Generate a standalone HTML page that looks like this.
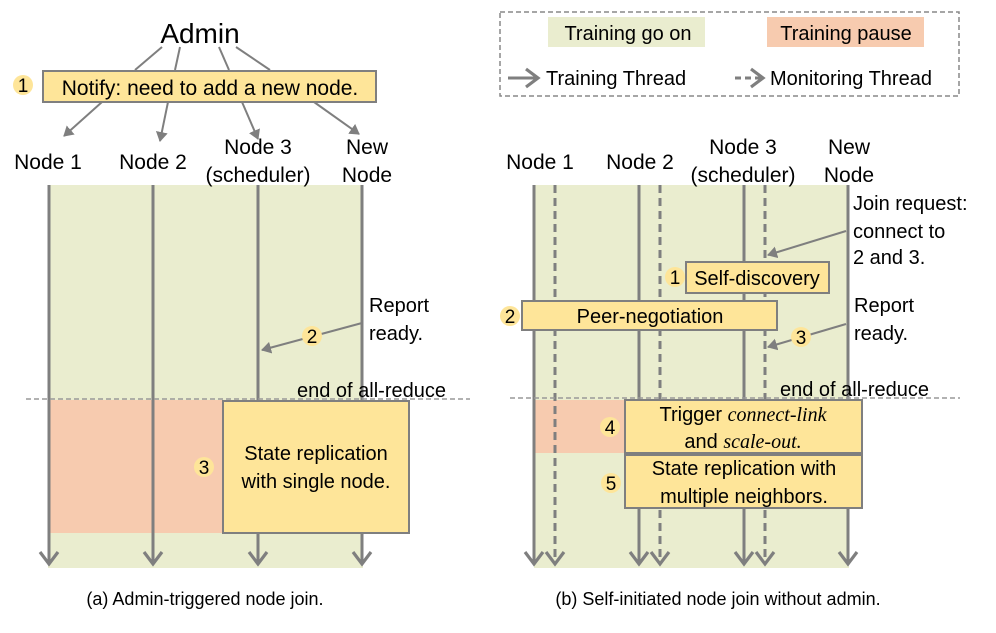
<!DOCTYPE html>
<html><head><meta charset="utf-8"><style>
html,body{margin:0;padding:0;background:#fff;}
svg text{font-family:"Liberation Sans",sans-serif;fill:#000;}
</style></head><body>
<svg width="996" height="628" viewBox="0 0 996 628" xmlns="http://www.w3.org/2000/svg">
<defs>
<marker id="ah" markerWidth="12" markerHeight="12" refX="9" refY="6" orient="auto" markerUnits="userSpaceOnUse">
<path d="M0,0 L10,6 L0,12 Z" fill="#7f7f7f"/></marker>
<marker id="ov" markerWidth="24" markerHeight="24" refX="13" refY="12" orient="auto" markerUnits="userSpaceOnUse">
<path d="M1,3 L13,12 L1,21" fill="none" stroke="#7f7f7f" stroke-width="3.2"/></marker>
</defs>
<!-- legend -->
<rect x="500" y="12" width="459" height="84" fill="none" stroke="#888" stroke-width="1.5" stroke-dasharray="5,3"/>
<rect x="548" y="17" width="157" height="30" fill="#eaedcf"/>
<rect x="767" y="17" width="157" height="30" fill="#f7cbaf"/>
<text x="628" y="40" font-size="20" text-anchor="middle">Training go on</text>
<text x="846" y="40" font-size="20" text-anchor="middle">Training pause</text>
<line x1="508" y1="78" x2="538" y2="78" stroke="#7f7f7f" stroke-width="3" marker-end="url(#ov)"/>
<text x="546" y="85" font-size="20">Training Thread</text>
<line x1="735" y1="78" x2="763" y2="78" stroke="#7f7f7f" stroke-width="3" stroke-dasharray="6,4" marker-end="url(#ov)"/>
<text x="770" y="85" font-size="20">Monitoring Thread</text>

<!-- LEFT PANEL -->
<rect x="48" y="185" width="315" height="383" fill="#eaedcf"/>
<rect x="48" y="400" width="175" height="133" fill="#f7cbaf"/>
<text x="200" y="43" font-size="28" text-anchor="middle">Admin</text>
<g stroke="#7f7f7f" stroke-width="2">
<line x1="162" y1="47" x2="135" y2="70"/><line x1="180" y1="47" x2="175" y2="70"/>
<line x1="219" y1="47" x2="229" y2="70"/><line x1="236" y1="47" x2="270" y2="70"/>
<line x1="102" y1="102" x2="64" y2="136" marker-end="url(#ah)"/>
<line x1="168" y1="102" x2="160" y2="141" marker-end="url(#ah)"/>
<line x1="242" y1="102" x2="258" y2="139" marker-end="url(#ah)"/>
<line x1="314" y1="102" x2="359" y2="134" marker-end="url(#ah)"/>
</g>
<rect x="43" y="71" width="333" height="31" fill="#fee599" stroke="#7f7f7f" stroke-width="2"/>
<text x="210" y="95" font-size="21" text-anchor="middle">Notify: need to add a new node.</text>
<circle cx="23" cy="85" r="10" fill="#fee599"/><text x="23" y="92" font-size="19" text-anchor="middle">1</text>
<text x="48" y="169" font-size="21" text-anchor="middle">Node 1</text>
<text x="153" y="169" font-size="21" text-anchor="middle">Node 2</text>
<text x="258" y="154" font-size="21" text-anchor="middle">Node 3</text>
<text x="258" y="182" font-size="21" text-anchor="middle">(scheduler)</text>
<text x="367" y="154" font-size="21" text-anchor="middle">New</text>
<text x="367" y="182" font-size="21" text-anchor="middle">Node</text>
<g stroke="#7f7f7f" stroke-width="3">
<line x1="49" y1="185" x2="49" y2="564" marker-end="url(#ov)"/>
<line x1="153" y1="185" x2="153" y2="564" marker-end="url(#ov)"/>
<line x1="258" y1="185" x2="258" y2="564" marker-end="url(#ov)"/>
<line x1="362" y1="185" x2="362" y2="564" marker-end="url(#ov)"/>
</g>
<line x1="26" y1="399" x2="470" y2="399" stroke="#999" stroke-width="1.5" stroke-dasharray="5,3"/>
<text x="297" y="397" font-size="20">end of all-reduce</text>
<rect x="223" y="401" width="186" height="132" fill="#fee599" stroke="#7f7f7f" stroke-width="2"/>
<text x="316" y="460" font-size="20" text-anchor="middle">State replication</text>
<text x="316" y="488" font-size="20" text-anchor="middle">with single node.</text>
<circle cx="204" cy="467" r="10" fill="#fee599"/><text x="204" y="474" font-size="19" text-anchor="middle">3</text>
<text x="369" y="312" font-size="20">Report</text>
<text x="369" y="340" font-size="20">ready.</text>
<line x1="362" y1="323" x2="262" y2="350" stroke="#7f7f7f" stroke-width="2" marker-end="url(#ah)"/>
<circle cx="312" cy="336" r="10" fill="#fee599"/><text x="312" y="343" font-size="19" text-anchor="middle">2</text>
<text x="205" y="605" font-size="18" text-anchor="middle">(a) Admin-triggered  node join.</text>

<!-- RIGHT PANEL -->
<rect x="534" y="185" width="315" height="383" fill="#eaedcf"/>
<rect x="535" y="400" width="90" height="53" fill="#f7cbaf"/>
<text x="540" y="169" font-size="21" text-anchor="middle">Node 1</text>
<text x="640" y="169" font-size="21" text-anchor="middle">Node 2</text>
<text x="743" y="154" font-size="21" text-anchor="middle">Node 3</text>
<text x="743" y="182" font-size="21" text-anchor="middle">(scheduler)</text>
<text x="849" y="154" font-size="21" text-anchor="middle">New</text>
<text x="849" y="182" font-size="21" text-anchor="middle">Node</text>
<g stroke="#7f7f7f" stroke-width="3">
<line x1="534" y1="185" x2="534" y2="564" marker-end="url(#ov)"/>
<line x1="639" y1="185" x2="639" y2="564" marker-end="url(#ov)"/>
<line x1="744" y1="185" x2="744" y2="564" marker-end="url(#ov)"/>
<line x1="848" y1="185" x2="848" y2="564" marker-end="url(#ov)"/>
</g>
<g stroke="#7f7f7f" stroke-width="3" stroke-dasharray="8,5">
<line x1="555" y1="185" x2="555" y2="564" marker-end="url(#ov)"/>
<line x1="660" y1="185" x2="660" y2="564" marker-end="url(#ov)"/>
<line x1="765" y1="185" x2="765" y2="564" marker-end="url(#ov)"/>
</g>
<line x1="510" y1="398" x2="960" y2="398" stroke="#999" stroke-width="1.5" stroke-dasharray="5,3"/>
<text x="780" y="396" font-size="20">end of all-reduce</text>
<text x="853" y="210" font-size="20">Join request:</text>
<text x="853" y="238" font-size="20">connect to</text>
<text x="853" y="264" font-size="20">2 and 3.</text>
<line x1="846" y1="231" x2="768" y2="255" stroke="#7f7f7f" stroke-width="2" marker-end="url(#ah)"/>
<text x="854" y="312" font-size="20">Report</text>
<text x="854" y="340" font-size="20">ready.</text>
<line x1="846" y1="324" x2="768" y2="347" stroke="#7f7f7f" stroke-width="2" marker-end="url(#ah)"/>
<circle cx="801" cy="337" r="10" fill="#fee599"/><text x="801" y="344" font-size="19" text-anchor="middle">3</text>
<rect x="686" y="262" width="143" height="31" fill="#fee599" stroke="#7f7f7f" stroke-width="2"/>
<text x="757" y="285" font-size="20" text-anchor="middle">Self-discovery</text>
<circle cx="675" cy="277" r="10" fill="#fee599"/><text x="675" y="284" font-size="19" text-anchor="middle">1</text>
<rect x="522" y="301" width="255" height="29" fill="#fee599" stroke="#7f7f7f" stroke-width="2"/>
<text x="650" y="323" font-size="20" text-anchor="middle">Peer-negotiation</text>
<circle cx="510" cy="316" r="10" fill="#fee599"/><text x="510" y="323" font-size="19" text-anchor="middle">2</text>
<rect x="625" y="400" width="237" height="53" fill="#fee599" stroke="#7f7f7f" stroke-width="2"/>
<text x="743" y="421" font-size="20" text-anchor="middle">Trigger <tspan font-family="Liberation Serif" font-style="italic">connect-link</tspan></text>
<text x="743" y="448" font-size="20" text-anchor="middle">and <tspan font-family="Liberation Serif" font-style="italic">scale-out.</tspan></text>
<circle cx="610" cy="427" r="10" fill="#fee599"/><text x="610" y="434" font-size="19" text-anchor="middle">4</text>
<rect x="625" y="455" width="237" height="53" fill="#fee599" stroke="#7f7f7f" stroke-width="2"/>
<text x="744" y="475" font-size="20" text-anchor="middle">State replication with</text>
<text x="744" y="503" font-size="20" text-anchor="middle">multiple  neighbors.</text>
<circle cx="611" cy="483" r="10" fill="#fee599"/><text x="611" y="490" font-size="19" text-anchor="middle">5</text>
<text x="718" y="605" font-size="18" text-anchor="middle">(b) Self-initiated node join without admin.</text>
</svg>
</body></html>
